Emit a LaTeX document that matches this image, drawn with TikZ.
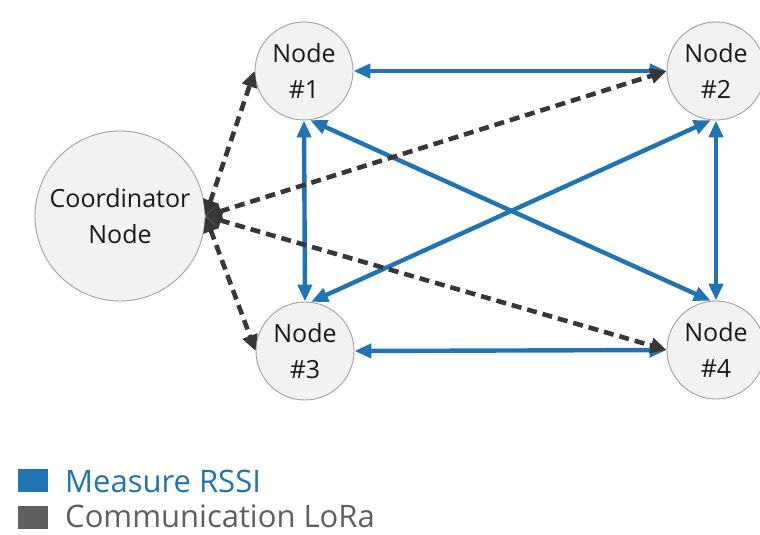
\documentclass[tikz,border=0pt]{standalone}
\usepackage{fontspec}
\setmainfont{Open Sans}
\usetikzlibrary{arrows.meta}
\definecolor{rssiblue}{RGB}{31,117,180}
\definecolor{loragray}{RGB}{55,55,55}
\definecolor{legendgray}{RGB}{95,95,95}
\definecolor{nodefill}{RGB}{242,242,242}
\definecolor{nodeline}{RGB}{160,160,160}
\tikzset{
  sensor/.style={circle, draw=nodeline, line width=0.9pt, fill=nodefill,
    minimum size=98pt, inner sep=0pt, align=center,
    font=\fontsize{25}{36}\selectfont, text=black!90},
  coordinator/.style={sensor, minimum size=170pt},
  rssi/.style={draw=rssiblue, line width=4.4pt,
    {Triangle[length=17pt,width=14pt]}-{Triangle[length=17pt,width=14pt]}},
  lora/.style={draw=loragray, line width=4.6pt, dash pattern=on 10pt off 6pt,
    {Triangle[length=16pt,width=15pt]}-{Triangle[length=16pt,width=15pt]}},
  legendtext/.style={anchor=base west, inner sep=0pt,
    font=\fontsize{31}{36}\selectfont}
}
\begin{document}
\begin{tikzpicture}[x=1pt,y=-1pt]
  \useasboundingbox (0,0) rectangle (760,535);

  % network nodes
  \node[coordinator] (coord) at (120,216) {Coordinator\\Node};
  \node[sensor] (n1) at (304,71)  {Node\\\#1};
  \node[sensor] (n2) at (716,71)  {Node\\\#2};
  \node[sensor] (n3) at (305,351) {Node\\\#3};
  \node[sensor] (n4) at (716,350) {Node\\\#4};

  % RSSI measurement links
  \draw[rssi] (n1.east) -- (n2.west);
  \draw[rssi] (n3.east) -- (n4.west);
  \draw[rssi] (n1.south) -- (n3.north);
  \draw[rssi] (n2.south) -- (n4.north);
  \draw[rssi] (n1.-83) -- (n4.96);
  \draw[rssi] (n3.83) -- (n2.-96);

  % LoRa communication links
  \draw[lora] (coord.east) -- (n1.west);
  \draw[lora] (coord.east) -- (n2.west);
  \draw[lora] (coord.east) -- (n3.west);
  \draw[lora] (coord.east) -- (n4.west);

  % legend
  \fill[rssiblue] (18,469) rectangle (48,492);
  \node[legendtext, text=rssiblue] (legrssi) at (65,492) {Measure RSSI};
  \fill[legendgray] (18,506) rectangle (48,529);
  \node[legendtext, text=legendgray] (leglora) at (65,527) {Communication LoRa};
\end{tikzpicture}
\end{document}
